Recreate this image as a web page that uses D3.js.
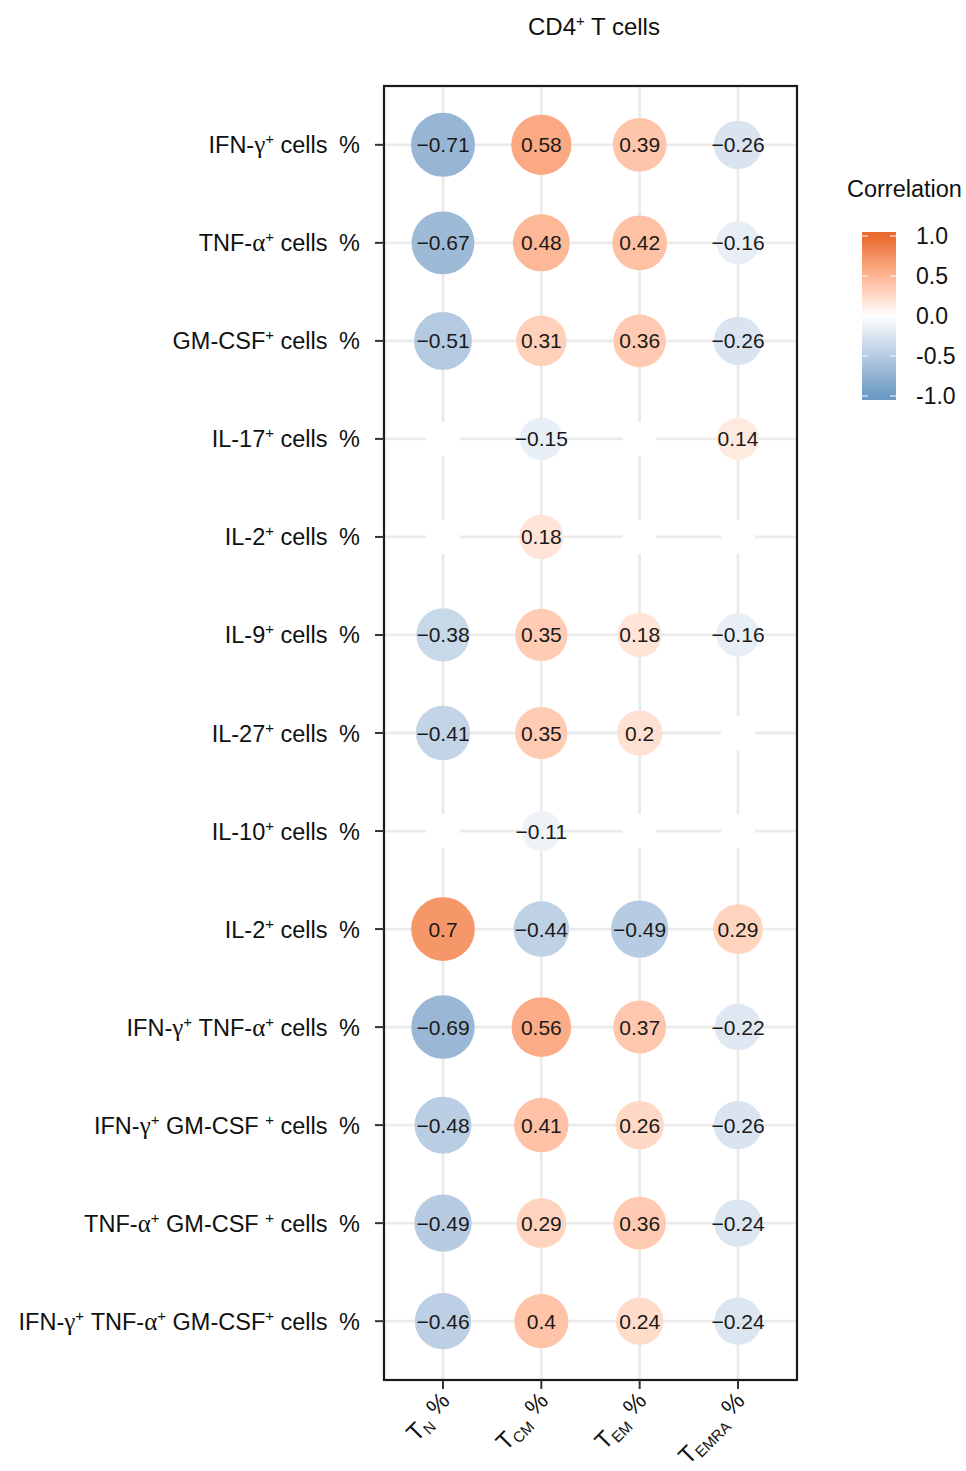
<!DOCTYPE html>
<html>
<head>
<meta charset="utf-8">
<script src="https://cdn.jsdelivr.net/npm/d3@7"></script>
<style>
  html, body { margin: 0; padding: 0; background: #fff; }
  svg { display: block; }
  text { white-space: pre; }
</style>
</head>
<body>
<svg id="chart" width="966" height="1471" font-family="'Liberation Sans', Arial, sans-serif"></svg>
<script>
// ---------- DATA ----------
const columns = ["TN", "TCM", "TEM", "TEMRA"];
const columnSubs = ["N", "CM", "EM", "EMRA"];
const rows = [
  "IFN-γ⁺ cells %",
  "TNF-α⁺ cells %",
  "GM-CSF⁺ cells %",
  "IL-17⁺ cells %",
  "IL-2⁺ cells %",
  "IL-9⁺ cells %",
  "IL-27⁺ cells %",
  "IL-10⁺ cells %",
  "IL-2⁺ cells % ",
  "IFN-γ⁺ TNF-α⁺ cells %",
  "IFN-γ⁺ GM-CSF ⁺ cells %",
  "TNF-α⁺ GM-CSF ⁺ cells %",
  "IFN-γ⁺ TNF-α⁺ GM-CSF⁺ cells %"
];
// values per row, in column order TN, TCM, TEM, TEMRA (null = not shown)
const valTN    = [-0.71, -0.67, -0.51, null, null, -0.38, -0.41, null, 0.70, -0.69, -0.48, -0.49, -0.46];
const valTCM   = [ 0.58,  0.48,  0.31, -0.15, 0.18, 0.35, 0.35, -0.11, -0.44, 0.56, 0.41, 0.29, 0.40];
const valTEM   = [ 0.39,  0.42,  0.36, null, null, 0.18, 0.20, null, -0.49, 0.37, 0.26, 0.36, 0.24];
const valTEMRA = [-0.26, -0.16, -0.26, 0.14, null, -0.16, null, null, 0.29, -0.22, -0.26, -0.24, -0.24];
const legendTitle = "Correlation";
const legendTicks = [1.0, 0.5, 0.0, -0.5, -1.0];

// ---------- BUILD ----------
const seriesByCol = [valTN, valTCM, valTEM, valTEMRA];
const cells = [];
rows.forEach((r, i) => columns.forEach((c, j) => cells.push({row: r, col: c, v: seriesByCol[j][i]})));

const svg = d3.select("#chart");
const panel = {left: 384, right: 797, top: 86, bottom: 1380};

const x = d3.scalePoint().domain(columns).range([panel.left, panel.right]).padding(0.6);
const y = d3.scalePoint().domain(rows).range([panel.top, panel.bottom]).padding(0.6);
const r = d3.scaleSqrt().domain([0, 1]).range([12.2, 35.7]);
const blankR = 17;

const color = d3.scaleLinear()
  .domain([-1, 0, 1])
  .range(["#6A9AC4", "#FFFFFF", "#E8692C"])
  .interpolate(d3.interpolateLab);

const serif = "'Liberation Serif', 'Times New Roman', serif";

// title
const ttl = svg.append("text").attr("x", 594).attr("y", 35).attr("text-anchor", "middle")
  .attr("font-size", 24).attr("fill", "#111");
ttl.append("tspan").text("CD4");
ttl.append("tspan").text("+").attr("font-size", 15).attr("dy", -9);
ttl.append("tspan").text(" T cells").attr("dy", 9);

// panel background + grid
const g = svg.append("g");
g.append("rect").attr("x", panel.left).attr("y", panel.top)
  .attr("width", panel.right - panel.left).attr("height", panel.bottom - panel.top)
  .attr("fill", "#fff");
g.selectAll(".vgrid").data(columns).join("line")
  .attr("x1", d => x(d)).attr("x2", d => x(d))
  .attr("y1", panel.top).attr("y2", panel.bottom)
  .attr("stroke", "#EBEBEB").attr("stroke-width", 2.8);
g.selectAll(".hgrid").data(rows).join("line")
  .attr("y1", d => y(d)).attr("y2", d => y(d))
  .attr("x1", panel.left).attr("x2", panel.right)
  .attr("stroke", "#EBEBEB").attr("stroke-width", 2.8);

// circles
g.selectAll(".dot").data(cells).join("circle")
  .attr("cx", d => x(d.col)).attr("cy", d => y(d.row))
  .attr("r", d => d.v === null ? blankR : r(Math.abs(d.v)))
  .attr("fill", d => d.v === null ? "#fff" : color(d.v));

// value labels
const fmt = v => (v < 0 ? "\u2212" : "") + String(Math.abs(v));
g.selectAll(".lab").data(cells.filter(d => d.v !== null)).join("text")
  .attr("x", d => x(d.col)).attr("y", d => y(d.row) + 7.5)
  .attr("text-anchor", "middle").attr("font-size", 21).attr("fill", "#1a1a1a")
  .text(d => fmt(d.v));

// panel border
g.append("rect").attr("x", panel.left).attr("y", panel.top)
  .attr("width", panel.right - panel.left).attr("height", panel.bottom - panel.top)
  .attr("fill", "none").attr("stroke", "#1a1a1a").attr("stroke-width", 2.2);

// y axis ticks + labels
g.selectAll(".ytick").data(rows).join("line")
  .attr("x1", panel.left - 9).attr("x2", panel.left)
  .attr("y1", d => y(d)).attr("y2", d => y(d))
  .attr("stroke", "#333").attr("stroke-width", 2);

function richLabel(sel, str) {
  let raised = false;
  const parts = [];
  for (const ch of str) {
    let type = "n";
    if (ch === "⁺") type = "sup";
    else if (ch === "γ" || ch === "α") type = "greek";
    else if (ch === "%") type = "pct";
    if (parts.length && type === "n" && parts[parts.length - 1].type === "n") parts[parts.length - 1].t += ch;
    else parts.push({type, t: ch === "⁺" ? "+" : ch});
  }
  parts.forEach(p => {
    const ts = sel.append("tspan").text(p.t);
    if (p.type === "sup") {
      ts.attr("font-size", 15).attr("dy", raised ? 0 : -9);
      raised = true;
    } else {
      if (raised) { ts.attr("dy", 9); raised = false; }
      if (p.type === "greek") ts.style("font-family", serif).attr("font-size", 25);
      if (p.type === "pct") ts.attr("dx", 5);
    }
  });
}

g.selectAll(".ylab").data(rows).join("text")
  .attr("x", 360).attr("y", d => y(d) + 8.5)
  .attr("text-anchor", "end").attr("font-size", 23.5).attr("fill", "#111")
  .each(function(d) { richLabel(d3.select(this), d.replace(/\s+$/, "")); });

// x axis ticks + labels
g.selectAll(".xtick").data(columns).join("line")
  .attr("x1", d => x(d)).attr("x2", d => x(d))
  .attr("y1", panel.bottom).attr("y2", panel.bottom + 9)
  .attr("stroke", "#333").attr("stroke-width", 2);

g.selectAll(".xlab").data(columns).join("text")
  .attr("text-anchor", "end").attr("font-size", 24).attr("fill", "#111")
  .attr("transform", d => `translate(${x(d) + 11},${panel.bottom + 25}) rotate(-45)`)
  .each(function(d, i) {
    const t = d3.select(this);
    t.append("tspan").text("T");
    t.append("tspan").text(columnSubs[i]).attr("font-size", 15).attr("dy", 4);
    t.append("tspan").text(" %").attr("dy", -8);
  });

// ---------- LEGEND ----------
const lg = svg.append("g");
lg.append("text").attr("x", 847).attr("y", 197).attr("font-size", 23.5).attr("fill", "#111").text(legendTitle);
const barX = 862, barW = 34, barTop = 232, barBot = 400;
const ly = d3.scaleLinear().domain([1, -1]).range([236, 396]);
const defs = svg.append("defs");
const grad = defs.append("linearGradient").attr("id", "cgrad")
  .attr("x1", 0).attr("x2", 0).attr("y1", 0).attr("y2", 1);
d3.range(0, 1.0001, 0.05).forEach(t => {
  const v = ly.invert(barTop + t * (barBot - barTop));
  grad.append("stop").attr("offset", t).attr("stop-color", color(Math.max(-1, Math.min(1, v))));
});
lg.append("rect").attr("x", barX).attr("y", barTop).attr("width", barW).attr("height", barBot - barTop)
  .attr("fill", "url(#cgrad)");
legendTicks.forEach(v => {
  lg.append("line").attr("x1", barX).attr("x2", barX + 6).attr("y1", ly(v)).attr("y2", ly(v))
    .attr("stroke", "#fff").attr("stroke-width", 1.2).attr("opacity", 0.8);
  lg.append("line").attr("x1", barX + barW - 6).attr("x2", barX + barW).attr("y1", ly(v)).attr("y2", ly(v))
    .attr("stroke", "#fff").attr("stroke-width", 1.2).attr("opacity", 0.8);
});
lg.selectAll(".ltick").data(legendTicks).join("text")
  .attr("x", 916).attr("y", d => ly(d) + 8).attr("font-size", 23).attr("fill", "#111")
  .text(d => d.toFixed(1));
</script>
</body>
</html>
